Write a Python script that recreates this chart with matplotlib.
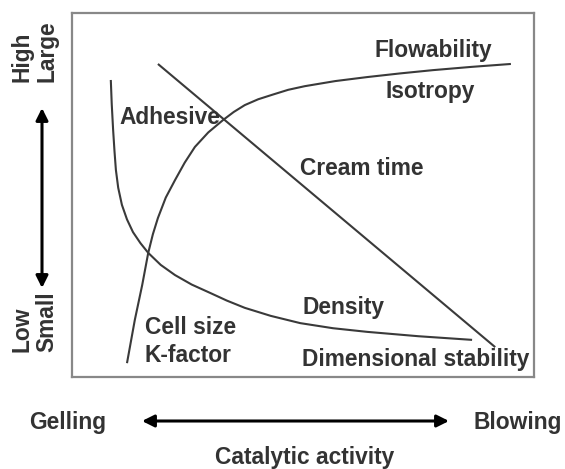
import matplotlib
matplotlib.use("Agg")
import matplotlib.pyplot as plt

plt.rcParams['font.family'] = ['Liberation Sans', 'DejaVu Sans']

# curves, in relative units (0-100 across the frame)
density_x = [8.4, 8.6, 8.9, 9.2, 9.5, 10.0, 10.8, 11.9, 13.2, 14.8, 16.5, 19.2, 22.3,
             25.9, 29.9, 33.5, 37.4, 43.0, 49.4, 56.5, 63.9, 75.0, 86.6]
density_y = [81.6, 75.0, 67.9, 62.0, 56.9, 52.0, 47.3, 43.3, 39.8, 36.8, 34.1, 30.8, 28.0,
             25.4, 23.1, 21.0, 19.0, 16.8, 14.8, 13.4, 12.4, 11.2, 10.2]
flow_x = [11.9, 13.6, 15.2, 16.5, 17.5, 18.6, 20.3, 22.3, 24.4, 26.6, 29.5, 32.7, 35.0,
          37.4, 40.3, 43.5, 46.8, 50.4, 57.0, 63.9, 71.0, 78.1, 86.5, 95.0]
flow_y = [3.8, 15.7, 25.3, 34.1, 39.2, 43.7, 49.3, 54.1, 58.9, 63.2, 67.2, 70.6, 72.8,
          74.7, 76.3, 77.6, 78.9, 79.9, 81.3, 82.4, 83.4, 84.3, 85.2, 86.0]
cream_x = [18.6, 91.6]
cream_y = [86.0, 8.2]

# curve labels: (text, x, y, ha)
curve_labels = [
    ("Flowability", 78.1, 89.8, "center"),
    ("Isotropy", 77.5, 78.3, "center"),
    ("Adhesive", 10.2, 71.2, "left"),
    ("Cream time", 49.4, 57.4, "left"),
    ("Density", 49.8, 19.0, "left"),
    ("Dimensional stability", 49.8, 4.9, "left"),
    ("Cell size", 15.8, 13.5, "left"),
    ("K-factor", 15.8, 5.8, "left"),
]

W, H = 565, 469
TXT = "#333333"
LINE = "#3a3a3a"
FS = 16.4

fig = plt.figure(figsize=(W / 100, H / 100), dpi=100)
ax = fig.add_axes([72 / W, (H - 377) / H, 462 / W, 364 / H])
ax.set_xlim(0, 100)
ax.set_ylim(0, 100)
ax.set_xticks([])
ax.set_yticks([])
for s in ax.spines.values():
    s.set_color("#888888")
    s.set_linewidth(1.6)

for xs, ys in [(density_x, density_y), (flow_x, flow_y), (cream_x, cream_y)]:
    ax.plot(xs, ys, color=LINE, lw=1.5, solid_joinstyle="round", solid_capstyle="butt")

for t, x, y, ha in curve_labels:
    ax.text(x, y, t, ha=ha, va="center", fontsize=FS, fontweight="bold", color=TXT)


def fy(y):
    return H - y


# bottom: gelling <-> blowing
fig.text(68 / W, fy(422) / H, "Gelling", ha="center", va="center",
         fontsize=FS, fontweight="bold", color=TXT)
fig.text(518 / W, fy(422) / H, "Blowing", ha="center", va="center",
         fontsize=FS, fontweight="bold", color=TXT)
fig.text(305 / W, fy(457) / H, "Catalytic activity", ha="center", va="center",
         fontsize=FS, fontweight="bold", color=TXT)
ax.annotate("", xy=(449, fy(421)), xytext=(142, fy(421)), xycoords="figure pixels",
            textcoords="figure pixels",
            arrowprops=dict(arrowstyle="<|-|>", color="black", lw=2.2,
                            mutation_scale=18, shrinkA=0, shrinkB=0))

# left: low/high
ax.annotate("", xy=(42, fy(108)), xytext=(42, fy(288)), xycoords="figure pixels",
            textcoords="figure pixels",
            arrowprops=dict(arrowstyle="<|-|>", color="black", lw=2.2,
                            mutation_scale=18, shrinkA=0, shrinkB=0))
for t, x, y in [("High", 22, 82), ("Large", 47, 82), ("Low", 22, 352), ("Small", 47, 352)]:
    fig.text(x / W, fy(y) / H, t, rotation=90, rotation_mode="anchor", ha="left", va="center",
             fontsize=FS, fontweight="bold", color=TXT)

fig.savefig("out.png", dpi=100)
